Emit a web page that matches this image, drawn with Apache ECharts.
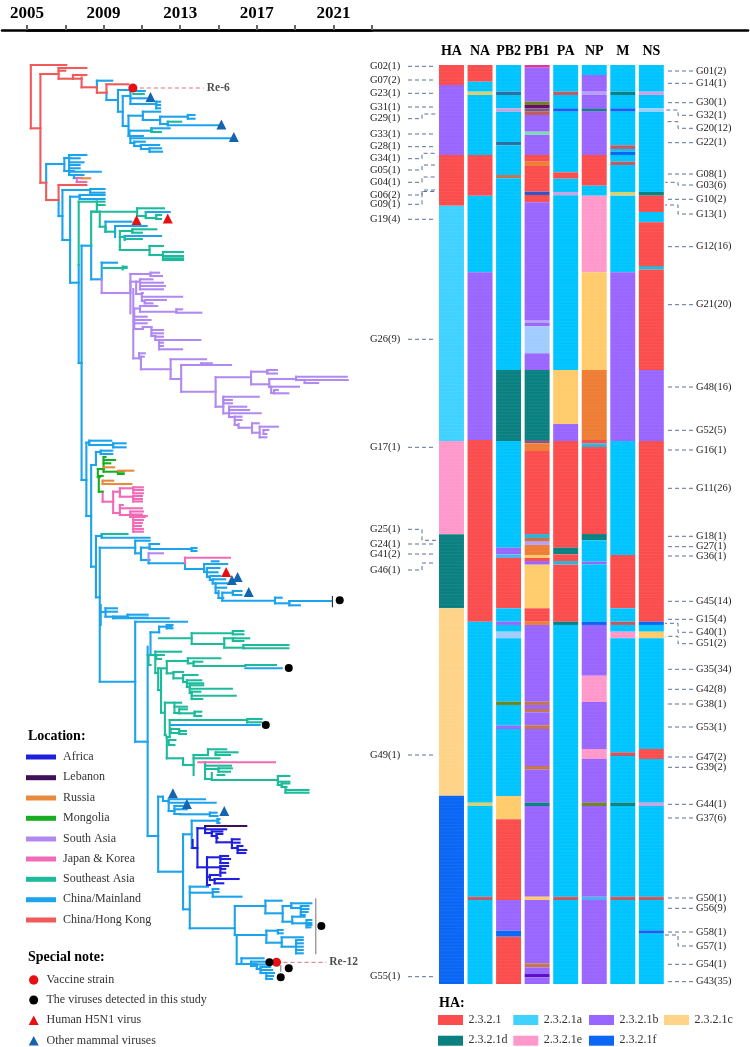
<!DOCTYPE html>
<html><head><meta charset="utf-8">
<style>html,body{margin:0;padding:0;background:#fff}#c{width:750px;height:1047px}</style>
<script src="https://cdn.jsdelivr.net/npm/echarts@6/dist/echarts.min.js"></script>
</head><body><div id="c"></div>
<script>
// Tree branches. Each rake: [node time, tipPos, tipTime, tipPos, tipTime, ...]
// time = years since 2005, tipPos = position along the tree / genotype stack
const treeMainland = [
[3.65,15.7,4.45,22.3,3.65],[4.15,27.7,4.15,35,4.75],[4.75,25,5.5,46.7,5.0],[5.0,31,5.4,61,5.3],
[5.4,26,6.15,33.3,6.25,39,6.75],[6.75,36.7,6.95,40,6.95,43.3,6.95],[5.3,50.7,6.05,71,5.4],
[6.05,46.7,6.95,55,6.95],[6.95,51.7,8.4,59,7.35],[8.4,50,8.75,53.7,8.75],[7.35,56.7,7.35,60.3,10.05],
[5.35,65.7,6.5,71,5.4],[6.5,63.3,7.45,65.7,6.5],[5.4,71,6.05,73.3,10.6,78,5.6],[5.6,76.7,6.15,81,5.95],
[5.95,80,6.9,84,6.4],[6.4,83.3,7.0,86.7,7.05],
[1.0,99,1.95,117.7,1.0],[1.95,93,2.2,106,2.2],[2.2,90,3.1,93.3,2.75,97.3,2.95,100,2.75,103.3,2.75,106.7,3.85],
[2.2,106,2.45,110,2.45],[2.45,110,2.95,113,2.85],
[1.65,135,1.65,151,1.85],[1.85,125,3.3,175,2.25],[3.3,124,4.05,127.7,4.05],
[2.25,131.7,2.75,217.7,2.7],[2.75,130,4.05,134,4.05],[2.7,200,2.7,298,2.85],[2.85,180.7,3.35,415,3.1],
[3.35,180,3.35,214.3,3.9],[3.9,197.7,4.7,214.3,3.9],
[6.2,147,7.45],[4.1,156.7,5.45,166.7,4.1],[4.6,161,6.25,172,4.6],[5.1,171,7.0,175,5.1],
[3.1,377.7,3.25,451,3.35],[3.25,375.7,4.4,380,4.5],[4.5,378.3,5.15,382.3,5.15],
[3.35,400,3.6,501.7,3.6],[3.6,387,3.85,400,3.6],[3.85,385.7,4.45,389,4.45],
[3.6,471,3.9,532.3,3.8],[3.9,469,3.9,472.7,6.4],[3.8,482.7,5.65,616.7,5.65],[5.65,475.7,6.4,488.3,5.9],
[5.95,482.7,6.4,495,6.4],[6.4,479,6.9,484,8.6],[8.6,483,8.85,486,8.85],[6.35,495,6.35,498.3,8.25],
[8.25,498.3,8.25,504,9.25],[9.25,499,10.45,507,9.4],[9.65,496.3,10],
[9.4,503,10.05,507.3,9.95,512,9.55],[9.55,511,10.1,515,9.7],[9.7,514.3,10.35,518.5,9.85],
[9.85,518.3,10.45,522.7,10.4,528,10.0],[10.0,526,10.0,533,10.25],[10.2,527.7,10.75,535.7,12.95],
[10.75,526,11.2,530,11.2],[12.95,532.7,13.3,538.3,13.7],[13.7,536,15.9,540.3,14.25],
[3.85,540,3.85,560,3.85],[4.1,543.3,4.7,546.7,4.7,551.7,5.25],[3.85,547,4.1],[4.5,551.7,5.25,553.3,7.4],
[5.25,549.7,6.3,552.7,6.3],[5.65,556.7,8.35,676.7,6.3],[6.3,581.7,6.3,771,6.85],[6.45,567.3,6.9,590,6.3],
[6.9,561.7,7.55,567.3,6.9],[7.3,560,7.6,563.3,7.6],
[11.4,603.3,13.3],[7.5,660,12.15],
[6.85,731.7,7.1,806.7,8.15],[7.1,731.7,7.1,736,7.4],[7.4,734.3,9.3,737.7,9.85,746,7.7],
[7.7,741,8.25,744.3,8.35,749,8.0],[8.0,749.3,9.55],[9.55,747.7,9.9,751,9.95],
[8.15,769.3,8.6,844.3,8.5],[8.6,755.7,10.0,783,8.65],[9.95,754,10.05,758,10.05],
[8.5,821.7,9.45,863.3,10.85],[8.5,827.7,9.7],[9.7,824,10.0,827,10.0,831.7,11.2],
[10.85,841,12.45,870,10.95],[10.95,870,12.5,899,11.2],[12.45,835.7,13.3,848.3,13.35],
[13.35,841,13.8,856.7,13.85],[13.8,838.3,14.85,843,14.3],[14.3,841,14.7,844,14.7,847,14.65,850,14.5],
[13.85,851.7,14.5,858.3,14.6],[14.6,855,14.85,858,14.85,860,14.85,862.3,14.8],
[12.5,865.7,13.1,877.7,13.3],[13.1,865,13.35,868.3,13.35],[13.3,872.3,14.4,881.7,14.05],
[14.05,875,14.4,878.3,14.4,881.7,14.4,885,14.4,888.3,14.4],
[11.2,893.3,12.35,899,11.95],[11.7,896.7,12.45,901,12.0],[12.0,899.5,12.5,904,12.2],
[12.2,902,12.7,905,12.8,908,12.6],[12.5,908,12.9,911,12.85,914,12.8]
];
const treeSoutheast = [
[5.55,29,6.1],[7.35,56.7,8.05],[6.5,63.3,6.5,67,7.0],
[2.7,136.7,3.65,200,2.7],[3.65,136.7,4.05,140,4.05,146.7,3.35],[3.35,146.7,3.8,180.7,3.35],
[3.8,146.7,5.75,161.7,4.1],[5.75,143.3,7.15,151,6.2],[6.2,147,6.2,153,6.75],[6.75,150,7.0,154,7.0],
[4.1,161.7,4.1,166.7,4.6],[5.5,164.3,6.75,167.7,6.0],[4.85,166,5.5,172,4.85],[4.85,172,5.1,182,4.85],
[5.1,174,6.0],[4.85,182,4.85,185,6.4],[6.4,181,7.1,190,6.4],[7.1,187,8.15,191,8.15,193.3,8.15,195,8.15],
[6.4,190,7.1],[4.0,203,5.2],[5.0,201.7,5.2,204.5,5.0],
[3.9,469,5.25],[6.9,573.3,8.6],[8.6,568.3,10.75,579,10.3],[10.75,566,11.3,569.3,11.3],
[10.3,573.3,11.6,582.7,11.3],[10.75,573.3,10.75,576,11.3],[11.3,580,13.65,583.3,13.65],
[6.35,590,6.7,600,6.45],[6.7,586.7,8.05,608,6.85],[6.75,590,7.15,594,7.0],
[6.85,603.3,7.3,625,7.0],[7.3,596,8.4,608.3,7.65],[8.4,593.3,10.1,598.3,8.7],[8.7,596.7,9.15,601,11.4],
[11.4,600,13],[7.65,607,8.15,613.3,8.15],[8.15,610,8.9,613.3,8.15,617,8.35],
[8.35,615.3,9.1,618.3,9.2,622,8.5],[8.5,620.3,9.2,623.7,10.7,628,8.6],[8.6,626.7,9.05,630.7,10.9,634,9.15],
[7.0,604,7.0,647.7,7.2],[7.2,637.7,8.05,670,7.25],[7.7,637.7,7.7,641.7,8.35,648,7.95],
[7.95,644.3,8.35,648.3,8.75],[8.75,646.7,9.1,651,9.1],
[7.45,655,11.5,672,7.3],[11.5,654,12.25,657.3,12.25],[7.5,664,7.95,668,7.95],[7.95,666,8.3,669,8.3],
[7.3,672,7.45,693.3,8.15],[7.4,675,7.75,680,7.7],[8.15,693.3,8.15,700,8.7],
[8.7,690,9.45,710,8.7],[9.45,684.3,10.4,690,9.45],[9.85,687.3,11,690,10.6],[8.7,693.3,10.05],
[9.3,697,9.3,700.7,10.65,714,9.65],[9.3,704,10.0],[10.0,703.3,10.7,706.7,10.6],[9.95,710,10.3],
[9.65,708,9.65,715,13.1],[13.1,711,13.7,716.7,13.7,720,13.3],[13.3,718.5,13.7,722,13.5],
[13.5,722,13.55,725,14.7,727.7,14.7]
];
const treeSouthAsia = [
[3.9,214.3,3.9,228,5.4],[5.4,209,6.45,248.3,5.4],[6.45,207.7,6.9,211,7.05],[5.4,216.7,5.7,228,5.4],
[5.7,216.7,5.9,229,6.0],[5.9,214.3,6.55,217.7,7.1,221,7.2,224.3,7.1],[6.0,228,6.05,231.7,8.1,236,6.15],
[6.15,235,7.25,238.3,6.55],[5.9,241,6.8,246.7,7.8],[7.8,244.3,8.1,247.7,9.1],[5.6,243.5,5.9,250,5.6],
[5.55,224,5.55,293.3,5.85],[5.6,251.7,6.25,255,6.45,258.3,6.25,264,6.05],[6.05,262,6.5,264,6.05],
[6.5,262,6.5,265,7.1,268.3,7.1,271,6.7],[6.7,271,6.7,271.7,7.1,275,6.9],
[6.9,275,9.05,277.7,7.1,281,7.1,284.3,8.1],[5.85,288.3,6.15,293.3,5.85],[5.95,291.7,6.1,304.3,7.5],
[7.5,294.3,9.35,314,8.05],[8.05,300,10.65,326.7,9.85],[9.1,298.3,9.65,300,9.1],
[9.85,312.3,11.7,341.7,10.25],[11.7,306.7,12.55,319.3,12.65],[12.55,305,13.05,308.5,13.05],
[12.65,314,14.05,322,12.75],[14.05,311.7,16.7,315,14.5],[14.5,315,16.75,318,15.2],
[12.75,321.7,14.2,328,12.9],[12.9,325,13.1,328.3,13.65],
[10.25,331.7,12.1,348.3,10.55],[10.25,335,10.7,338.3,10.7],
[10.55,341.7,11.45,345,11.6,348.3,12.2,352,10.85],[10.85,351.7,11.2,355,11.2,360,11.0],
[11.05,359,11.05,362.7,11.75],[11.75,358.3,12.1,367.7,12.15],[12.15,361.7,13.1,372.3,12.5],
[12.35,365,12.6,369,12.5],[6.35,488.3,7.1,495,6.35]
];
const treeJapanKorea = [
[2.6,113,2.85,117,3.1],[8.25,492.7,10.6,498.3,8.25],
[3.95,426.7,3.95,436.7,4.5],[4.5,426.7,4.85,448,4.85],[4.85,423.3,5.55,431.7,5.55],
[5.55,422.3,6.05,425,6.05,428.3,6.05],[5.55,431,6.0,434,6.0,436.5,6.0],
[4.85,440,5.0,443.3,6.0,450,5.4],[5.4,446.5,6.05,449.5,6.0,451,6.25],
[5.55,452,6.15,455,6.05,458,6.0,461,5.95,464,6.05,466.7,6.05],[5.4,450,5.55,452,5.55],
[8.95,697.3,12.95]
];
const treeMongolia = [
[3.7,404,4.0,412,3.8],[4.0,392,4.1,395,4.6,398.3,4.35,404,4.0],[4.0,404,4.0,406.7,4.75],
[4.75,406.7,5.05,409,5.05],[3.75,411,3.95,426.7,3.95]
];
const treeRussia = [[2.85,113.3,3.3],[4.0,402.3,4.55],[4.75,405.7,5.55],[3.95,415.7,4.5,419,5.45]];
const treeAfrica = [
[8.65,775,8.65,783,8.9],[8.9,763.3,9.3,802.3,9.4],[9.3,761,9.3,764.3,10.4,768,9.65],
[9.65,766.5,10.2,771,9.9],[9.9,769,10.2,773,9.95,777.3,10.7],[10.7,774.3,11.1,777.7,11.1,783,11.0],
[11.0,781,11.25,785,11.45,788,11.4],[9.4,792.3,10.1,820,9.55],[10.1,791,10.5,794,10.6,798,10.5],
[9.4,802.3,10.1,812,9.55],[10.1,801,10.5,804,10.35,807.7,10.35,811,10.1],[9.55,810,10.0,815,9.8],
[9.8,814,11.05,818.3,10.25]
];
const treeLebanon = [[9.3,761,11.45]];
const treeHongKong = [
[0.2,0,2.05,63.3,0.7],[0.7,9,1.65,117.7,1.0],[1.65,3,3.1,5.7,2.0,13.7,2.4],[2.4,10,3.1,13.7,2.85],
[2.85,12.5,2.85,22.3,3.65],[3.65,22.3,3.65,27.7,4.15],[4.15,19.3,5.3,27.7,4.15],
[1.0,117.7,1.0,135,1.65],[1.65,120,3.1,135,1.65]
];
// Clade bars beside the viruses of this study: [time, from, to]
const studyBarsGray = [[15.08,833.3,889.3],[13.25,900,906.7]];
const studyBarsBlack = [[15.95,531,542.3]];
// Tip marks: [time, tipPos]
const vaccineStrains = [[5.53,23],[13.03,897.3]];
const studyViruses = [[16.33,535.3],[13.67,603],[12.47,660],[15.37,861],[12.66,897.3],[13.67,903.3],[13.25,912.3]];
const humanViruses = [[5.72,155],[7.35,153.5],[10.4,507]];
const mammalViruses = [[6.45,32],[10.15,59.5],[10.8,72],[10.7,515],[11.0,512],[11.58,527],[7.62,728.3],[8.35,739],[10.3,746]];
const vaccineLinks = [[5.53,23,9.23,23,'Re-6'],[13.03,897.3,15.63,897.3,'Re-12']];
// Axis
const startYear = 2005;
// Gene columns: [from, to, clade code]
const genes = ['HA','NA','PB2','PB1','PA','NP','M','NS'];
const heatHA = [[0,20,'r'],[20,90,'b'],[90,140.7,'r'],[140.7,376,'A'],[376,469.3,'e'],[469.3,543.3,'d'],[543.3,730.7,'C'],[730.7,919,'f']];
const heatNA = [[0,16.7,'r'],[16.7,26.7,'a'],[26.7,30,'y'],[30,90,'a'],[90,130.7,'r'],[130.7,207.3,'a'],[207.3,375,'b'],[375,556.7,'r'],[556.7,737.7,'a'],[737.7,741,'y'],[741,831.7,'a'],[831.7,835,'m'],[835,919,'a']];
const heatPB2 = [[0,26.7,'a'],[26.7,30,'s'],[30,43.3,'a'],[43.3,46.7,'p'],[46.7,77,'a'],[77,80.3,'s'],[80.3,110,'a'],[110,113.3,'n'],[113.3,305,'a'],[305,376,'d'],[376,482.7,'a'],[482.7,489.3,'b'],[489.3,493,'t'],[493,543.3,'r'],[543.3,556.7,'a'],[556.7,560,'b'],[560,566.7,'a'],[566.7,573.3,'l'],[573.3,636.7,'a'],[636.7,640,'v'],[640,660.7,'a'],[660.7,664,'b'],[664,731,'a'],[731,754.3,'c'],[754.3,835,'r'],[835,865.7,'b'],[865.7,871.7,'f'],[871.7,919,'r']];
const heatPB1 = [[0,2.7,'g'],[2.7,36.7,'b'],[36.7,40,'v'],[40,43.3,'x'],[43.3,46.7,'z'],[46.7,50,'m'],[50,66.7,'b'],[66.7,70,'h'],[70,90,'b'],[90,96.7,'r'],[96.7,101,'o'],[101,126.7,'r'],[126.7,130,'k'],[130,137.3,'r'],[137.3,255,'b'],[255,258,'q'],[258,261.3,'b'],[261.3,288.3,'l'],[288.3,305,'b'],[305,375,'d'],[375,378.3,'z'],[378.3,386,'o'],[386,469,'r'],[469,473,'u'],[473,476.7,'n'],[476.7,480,'q'],[480,490,'o'],[490,493,'c'],[493,496,'r'],[496,499.7,'b'],[499.7,543.3,'c'],[543.3,556.7,'r'],[556.7,560,'o'],[560,636.7,'b'],[636.7,640,'n'],[640,644,'b'],[644,647.3,'n'],[647.3,660.3,'b'],[660.3,664,'n'],[664,701,'b'],[701,704.7,'n'],[704.7,737.7,'b'],[737.7,741,'d'],[741,831.7,'b'],[831.7,835,'c'],[835,898.3,'b'],[898.3,902.3,'n'],[902.3,909,'b'],[909,912.3,'w'],[912.3,919,'b']];
const heatPA = [[0,26.7,'a'],[26.7,30,'m'],[30,43.3,'a'],[43.3,46.7,'f'],[46.7,107.3,'a'],[107.3,113.7,'r'],[113.7,127,'a'],[127,130.3,'p'],[130.3,305,'a'],[305,359,'c'],[359,376,'b'],[376,482.7,'r'],[482.7,489.3,'d'],[489.3,496,'r'],[496,499.7,'u'],[499.7,556.7,'r'],[556.7,560,'d'],[560,831.7,'a'],[831.7,835,'m'],[835,919,'a']];
const heatNP = [[0,10,'a'],[10,26.7,'b'],[26.7,30,'q'],[30,43.3,'b'],[43.3,46.7,'s'],[46.7,90,'b'],[90,120.7,'r'],[120.7,130.7,'a'],[130.7,207.3,'e'],[207.3,305,'c'],[305,375,'o'],[375,378.3,'r'],[378.3,382,'u'],[382,469,'r'],[469,475.3,'d'],[475.3,496.7,'a'],[496.7,499.3,'b'],[499.3,556.7,'a'],[556.7,560,'f'],[560,610.7,'b'],[610.7,637,'e'],[637,684,'b'],[684,694,'e'],[694,737.7,'b'],[737.7,741,'v'],[741,831.7,'b'],[831.7,835,'t'],[835,919,'b']];
const heatM = [[0,26.7,'a'],[26.7,30,'d'],[30,43.3,'a'],[43.3,46.7,'f'],[46.7,80.3,'a'],[80.3,84,'m'],[84,86.7,'a'],[86.7,90,'f'],[90,96.7,'a'],[96.7,100,'m'],[100,127,'a'],[127,130.7,'y'],[130.7,207.3,'a'],[207.3,376,'b'],[376,490,'a'],[490,543.3,'r'],[543.3,556.7,'a'],[556.7,560,'m'],[560,566.7,'a'],[566.7,573.3,'e'],[573.3,687.3,'a'],[687.3,691,'m'],[691,737.7,'a'],[737.7,741,'d'],[741,831.7,'a'],[831.7,835,'m'],[835,919,'a']];
const heatNS = [[0,26.7,'a'],[26.7,30,'p'],[30,43.3,'a'],[43.3,46.7,'l'],[46.7,127,'a'],[127,130.7,'d'],[130.7,147,'r'],[147,157.3,'a'],[157.3,201,'r'],[201,204.7,'u'],[204.7,305,'r'],[305,376,'b'],[376,556.7,'r'],[556.7,560,'f'],[560,566.7,'a'],[566.7,573.3,'c'],[573.3,684,'a'],[684,694,'r'],[694,737.7,'a'],[737.7,741,'p'],[741,831.7,'a'],[831.7,835,'m'],[835,865.3,'a'],[865.3,868.7,'f'],[868.7,919,'a']];
// Genotype labels: [name, label position, target position]
const leftGenotypes = [['G02(1)',1.3,1.3],['G07(2)',15,15],['G23(1)',28.3,28.3],['G31(1)',42,42],['G29(1)',53.7,49],['G33(1)',69,69],['G28(1)',81.7,81.7],['G34(1)',93.7,88.3],['G05(1)',105,100],['G04(1)',117.3,112],['G06(2)',130,125],['G09(1)',139.3,126.5],['G19(4)',154.3,154.3],['G26(9)',274.3,274.3],['G17(1)',382.3,382.3],['G25(1)',464.3,475.3],['G24(1)',479,479],['G41(2)',489,489],['G46(1)',505,498],['G49(1)',690,690],['G55(1)',911.7,911.7]];
const rightGenotypes = [['G01(2)',6,6],['G14(1)',18.3,18.3],['G30(1)',37.7,37.7],['G32(1)',50.3,45],['G20(12)',63.3,56.7],['G22(1)',77.7,77.7],['G08(1)',109,109],['G03(6)',120,117.3],['G10(2)',134.3,134.3],['G13(1)',149,140],['G12(16)',181.7,181.7],['G21(20)',239.7,239.7],['G48(16)',322,322],['G52(5)',365.3,365.3],['G16(1)',385,385],['G11(26)',423.3,423.3],['G18(1)',471.3,471.3],['G27(1)',481.7,481.7],['G36(1)',491,491],['G45(14)',536.3,536.3],['G15(4)',554.3,554.3],['G40(1)',567.3,558.3],['G51(2)',578.7,571.3],['G35(34)',604.3,604.3],['G42(8)',624.3,624.3],['G38(1)',639,639],['G53(1)',662,662],['G47(2)',692,692],['G39(2)',702.3,702.3],['G44(1)',739.3,739.3],['G37(6)',753,753],['G50(1)',833,833],['G56(9)',843.3,843.3],['G58(1)',867,867],['G57(1)',881,870],['G54(1)',899.3,899.3],['G43(35)',916.7,916.7]];
const rowSize = 3.33, stackEnd = 919;
// Legends
const locationNames = ['Africa','Lebanon','Russia','Mongolia','South Asia','Japan & Korea','Southeast Asia','China/Mainland','China/Hong Kong'];
const specialNames = ['Vaccine strain','The viruses detected in this study','Human H5N1 virus','Other mammal viruses'];
const cladeNames = ['2.3.2.1','2.3.2.1a','2.3.2.1b','2.3.2.1c','2.3.2.1d','2.3.2.1e','2.3.2.1f'];

const SERIF = '"Liberation Serif","Times New Roman",serif';
const locationColors = ['#2020dc','#3f0f58','#e88a3c','#18ae24','#b08af0','#f06ab8','#1dbb9b','#1ca3ec','#f05a5a'];
const cladeColors = ['#fb4d4d','#40d2ff','#9966ff','#ffd488','#0a8080','#ff99cc','#0a66f5'];
const heatColors = {r:'#fb4d4d',A:'#40d2ff',a:'#00c4ff',b:'#9966ff',C:'#ffd488',c:'#ffcb6b',d:'#0a8080',e:'#ff99cc',f:'#0a66f5',
  y:'#d8d070',m:'#c25a62',s:'#2c6e9e',p:'#d0a0e0',l:'#a0ccff',n:'#c4744e',t:'#4cb0f0',v:'#6e8420',g:'#e0359a',
  x:'#6a0a70',z:'#7a5a80',h:'#80d8b8',o:'#ee7d35',k:'#2f55c8',q:'#b7a0ff',u:'#34b0d0',w:'#5a10c8'};

function branches(rakes){
  const out=[];
  rakes.forEach(r=>{
    const x=r[0]; const ys=[];
    for(let i=1;i<r.length;i+=2){ ys.push(r[i]); if(r[i+1]!==x) out.push([x,r[i],r[i+1],r[i]]); }
    if(ys.length>1) out.push([x,Math.min(...ys),x,Math.max(...ys)]);
  });
  return out;
}
function segSeries(data,color,width,dash){
  return {type:'custom',xAxisIndex:0,yAxisIndex:0,silent:true,animation:false,clip:false,data:data,
    renderItem:(p,api)=>{
      const a=api.coord([api.value(0),api.value(1)]),b=api.coord([api.value(2),api.value(3)]);
      return {type:'line',shape:{x1:a[0],y1:a[1],x2:b[0],y2:b[1]},
        style:{stroke:color,lineWidth:width,lineCap:dash?'butt':'square',lineDash:dash||null}};
    }};
}
function markSeries(data,symbol,color,size){
  return {type:'scatter',xAxisIndex:0,yAxisIndex:0,silent:true,animation:false,data:data,symbol:symbol,symbolSize:size,
    itemStyle:{color:color,opacity:1},z:6};
}
const heatCols=[heatHA,heatNA,heatPB2,heatPB1,heatPA,heatNP,heatM,heatNS];
const heatData=[];
heatCols.forEach((col,i)=>col.forEach(s=>heatData.push([i,s[0],s[1],s[2]])));

function leaderSeries(list,side){
  const L=side==='left';
  const x0=L?408:693,x1=L?436:665,xm=L?422:678,tx=L?370:696;
  return {type:'custom',xAxisIndex:1,yAxisIndex:1,silent:true,animation:false,clip:false,
    data:list.map(g=>[0,g[1],g[2]]),
    renderItem:(p,api)=>{
      const ly=api.coord([0,api.value(1)])[1],ty=api.coord([0,api.value(2)])[1];
      const pts=ly===ty?[[x0,ly],[x1,ly]]:[[x0,ly],[xm,ly],[xm,ty],[x1,ty]];
      return {type:'group',children:[
        {type:'polyline',shape:{points:pts},style:{stroke:'#5b7199',lineWidth:1,lineDash:[4,3],fill:null}},
        {type:'text',style:{text:list[p.dataIndex][0],x:tx,y:ly,fill:'#222',fontSize:10.5,fontFamily:SERIF,verticalAlign:'middle',align:'left'}}
      ]};
    }};
}
const series=[];
[treeMainland,treeSoutheast,treeSouthAsia,treeJapanKorea,treeMongolia,treeRussia,treeAfrica,treeLebanon,treeHongKong].forEach((t,i)=>{
  const idx=[7,6,4,5,3,2,0,1,8][i];
  series.push(segSeries(branches(t),locationColors[idx],2.1));
});
series.push(segSeries(studyBarsGray.map(b=>[b[0],b[1],b[0],b[2]]),'#8a8a8a',1.2,[100,0]));
series.push(segSeries(studyBarsBlack.map(b=>[b[0],b[1],b[0],b[2]]),'#333',1.2,[100,0]));
series.push(segSeries(vaccineLinks.map(l=>l.slice(0,4)),'#d9707c',1,[4,3]));
series.push(markSeries(vaccineStrains,'circle','#e60f14',9));
series.push(markSeries(studyViruses,'circle','#000',8));
series.push(markSeries(humanViruses,'triangle','#e60f14',10));
series.push(markSeries(mammalViruses,'triangle','#1464b0',10));
series.push({type:'scatter',xAxisIndex:0,yAxisIndex:0,silent:true,animation:false,symbolSize:0,
  data:vaccineLinks.map(l=>({value:[l[2],l[3]],label:{show:true,position:'right',distance:3,formatter:l[4],fontFamily:SERIF,fontWeight:'bold',fontSize:11.5,color:'#222'}}))});
series.push({type:'custom',xAxisIndex:1,yAxisIndex:1,silent:true,animation:false,data:heatData,
  renderItem:(p,api)=>{
    const col=api.value(0),a=api.coord([col,api.value(1)]),b=api.coord([col,api.value(2)]);
    const w=api.size([1,0])[0]*0.875, code=heatData[p.dataIndex][3];
    const ch=[{type:'rect',shape:{x:a[0]-w/2,y:a[1],width:w,height:b[1]-a[1]},style:{fill:heatColors[code]}}];
    for(let r=Math.ceil(api.value(1)/rowSize);r*rowSize<api.value(2);r++){
      const y=api.coord([col,r*rowSize])[1];
      ch.push({type:'line',shape:{x1:a[0]-w/2,y1:y,x2:a[0]+w/2,y2:y},style:{stroke:'rgba(255,255,255,0.06)',lineWidth:1}});
    }
    return {type:'group',children:ch};
  }});
series.push(leaderSeries(leftGenotypes,'left'));
series.push(leaderSeries(rightGenotypes,'right'));

const graphic=[];
const txt=(text,x,y,size,bold)=>({type:'text',left:x,top:y-size/2-0.5,silent:true,style:{text,fontFamily:SERIF,fontSize:size,fontWeight:bold?'bold':'normal',fill:bold?'#000':'#333'}});
graphic.push(txt('Location:',28,736.7,14,true));
const locY=[757,777.7,798,818.3,839,859,879.3,899.7,920];
locationNames.forEach((n,i)=>{
  graphic.push({type:'rect',left:26,top:locY[i]-2.5,shape:{width:30,height:5},style:{fill:locationColors[i]},silent:true});
  graphic.push(txt(n,63,locY[i],12));
});
graphic.push(txt('Special note:',28,957.7,14,true));
const spY=[980,1000,1020.7,1041];
specialNames.forEach((n,i)=>graphic.push(txt(n,46.5,spY[i],12)));
graphic.push({type:'circle',shape:{cx:33.7,cy:980,r:4.7},style:{fill:'#e60f14'},silent:true});
graphic.push({type:'circle',shape:{cx:33.7,cy:1000,r:4.5},style:{fill:'#000'},silent:true});
graphic.push({type:'polygon',shape:{points:[[33.7,1015.5],[28.7,1025],[38.7,1025]]},style:{fill:'#e60f14'},silent:true});
graphic.push({type:'polygon',shape:{points:[[33.7,1036],[28.7,1045.5],[38.7,1045.5]]},style:{fill:'#1464b0'},silent:true});
graphic.push(txt('HA:',439,1004,14,true));
const cX=[438,513.3,589,664],cY=[1020,1040.7];
cladeNames.forEach((n,i)=>{
  const cx=cX[i%4],cy=cY[i<4?0:1];
  graphic.push({type:'rect',left:cx,top:cy-5,shape:{width:25,height:10},style:{fill:cladeColors[i]},silent:true});
  graphic.push(txt(n,cx+30.5,cy,12));
});

const chart=echarts.init(document.getElementById('c'),null,{renderer:'canvas'});
chart.setOption({
  animation:false,backgroundColor:'#fff',
  grid:[
    {left:27,top:65,width:344.7,height:919},
    {left:437.2,top:65,width:228.4,height:919},
    {left:2,top:30,width:746,height:1},
    {left:27,top:30,width:344.7,height:1}
  ],
  xAxis:[
    {type:'value',gridIndex:0,min:0,max:18,show:false},
    {type:'category',gridIndex:1,position:'top',data:genes,axisLine:{show:false},axisTick:{show:false},
     axisLabel:{interval:0,margin:7,fontFamily:SERIF,fontWeight:'bold',fontSize:14,color:'#000'}},
    {type:'value',gridIndex:2,position:'top',min:0,max:1,axisLine:{show:true,onZero:false,lineStyle:{color:'#000',width:2.5}},axisTick:{show:false},axisLabel:{show:false},splitLine:{show:false}},
    {type:'value',gridIndex:3,position:'top',min:0,max:18,interval:2,
     axisLine:{show:true,onZero:false,lineStyle:{color:'#000',width:2.5}},axisTick:{show:true,length:5,lineStyle:{color:'#666',width:2}},splitLine:{show:false},
     axisLabel:{show:true,margin:8,fontFamily:SERIF,fontWeight:'bold',fontSize:17,color:'#000',
       formatter:v=>v%4===0&&v<18?String(startYear+v):''}}
  ],
  yAxis:[
    {type:'value',gridIndex:0,inverse:true,min:0,max:stackEnd,show:false},
    {type:'value',gridIndex:1,inverse:true,min:0,max:stackEnd,show:false},
    {type:'value',gridIndex:2,min:0,max:1,show:false},
    {type:'value',gridIndex:3,min:0,max:1,show:false}
  ],
  series:series,
  graphic:{elements:graphic}
});
</script></body></html>
